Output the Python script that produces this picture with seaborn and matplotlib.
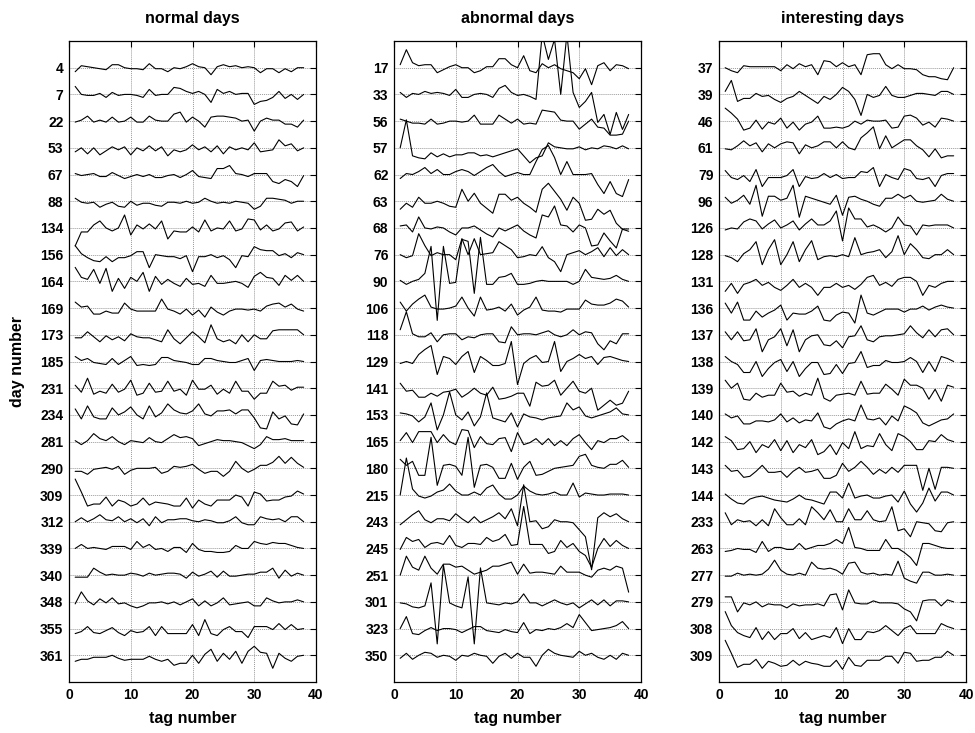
import matplotlib
matplotlib.use("Agg")
import matplotlib.pyplot as plt
import pandas as pd
import seaborn as sns

sns.set_theme(style="white")
plt.rcParams['font.family'] = ['Liberation Sans', 'DejaVu Sans']
plt.rcParams['text.color'] = 'black'
plt.rcParams['axes.labelcolor'] = 'black'
plt.rcParams['xtick.color'] = 'black'
plt.rcParams['ytick.color'] = 'black'

# ---------------- data ----------------
tags = list(range(1, 39))

titles = ["normal days", "abnormal days", "interesting days"]

normal_days = [4, 7, 22, 53, 67, 88, 134, 156, 164, 169, 173, 185, 231, 234,
               281, 290, 309, 312, 339, 340, 348, 355, 361]
abnormal_days = [17, 33, 56, 57, 62, 63, 68, 76, 90, 106, 118, 129, 141, 153,
                 165, 180, 215, 243, 245, 251, 301, 323, 350]
interesting_days = [37, 39, 46, 61, 79, 96, 126, 128, 131, 136, 137, 138, 139,
                    140, 142, 143, 144, 233, 263, 277, 279, 308, 309]

# trace deviations (upward positive), one list per day
normal_traces = [
    [-4, 2, 1, 0, -1, -2, 3, 3, 0, -1, -1, -2, 4, -1, -1, -4, 0, -1, 1, 4, 1, 0, -7, 1, 3, 1, 2, 0, 1, 0, -5, -1, -1, -5, -1, -4, 0, 0],
    [8, 0, -1, -1, 1, -3, 2, -1, 0, 0, -1, -3, 5, -1, 0, 0, 7, 6, 3, 1, 3, 0, -8, 5, 1, 3, 0, 1, 1, -10, -7, -6, -3, 3, -4, 0, -5, 0],
    [-1, 1, 5, -1, 1, -1, 4, -1, 0, 4, -1, -1, 5, 1, 0, 0, 7, 9, -1, 4, 0, -6, 4, 5, 5, 4, 3, 0, 1, -10, 0, 3, 1, 1, -3, -3, -6, 1],
    [-4, 0, -6, 0, -7, -3, 1, -2, 1, -7, 0, -3, 2, -3, 1, -8, -2, -4, -2, 3, -2, 1, -4, 2, -6, 1, -2, 0, -2, 5, -4, -3, -2, 8, 2, 4, -3, 0],
    [1, -1, 0, 1, -2, -2, 2, -1, -4, -2, 0, -2, 0, -3, -3, -1, 0, -3, 0, 4, -2, -3, -4, 6, 6, 9, 1, 0, -2, 1, 1, 1, -7, -9, -5, -7, -12, -1],
    [3, -1, -2, -1, -6, -3, -1, -5, -6, 0, -4, -2, -2, -4, -5, -1, -1, -2, 0, -2, -1, 3, 0, -2, -1, -2, 0, -1, -2, -8, -5, 3, 3, 2, 1, -2, 0, 0],
    [-18, -4, -4, 3, 7, 0, -3, 0, 13, -7, 3, -1, 4, -1, 7, -11, -3, -4, -4, 1, -4, 8, -3, 0, -1, 7, -3, -1, 9, 8, -2, 3, -3, -1, 5, 6, -3, 1],
    [9, 1, -3, -6, -7, -2, -7, -3, -3, -1, 3, 3, -13, 0, -1, -2, -2, -4, -1, -17, -2, -2, 0, -3, -1, -5, -13, -1, -2, 8, 5, 4, 4, -1, 1, -3, 2, 0],
    [14, 4, 2, 12, -2, 13, -10, 3, -7, 4, 0, 9, -10, 5, -3, 2, -2, -5, 3, -3, -2, -5, 6, -2, -2, -1, 0, -2, -6, 5, 9, 4, 3, -4, 6, 1, 6, 0],
    [6, 1, 2, -6, -6, -3, -5, -5, 5, -1, -3, -3, -3, -3, 9, -1, -3, -6, -1, -7, -2, -9, 1, -4, -7, -3, -1, -1, -2, -1, -3, 2, 4, 5, 1, 4, -1, -3],
    [-3, -3, 3, -2, -7, -1, -5, -2, -6, 1, -2, -3, -3, -5, -7, 5, -4, -9, -3, 3, -2, -8, 10, -4, -7, -5, -9, 0, -7, 0, -4, -4, 4, 5, 5, 5, 5, 0],
    [5, 1, 3, -1, -2, -3, 3, -3, 1, 5, -4, -3, -4, -3, 4, 4, 1, 0, -1, -3, -3, 3, 3, 1, 0, -1, -1, 1, 3, -9, 1, 2, 1, 0, 0, 0, 1, 0],
    [3, -4, 10, -6, -3, -5, 4, -4, -1, 8, -7, -5, 5, -4, -3, 7, -3, -1, -7, 8, -1, -1, 3, -6, -1, -5, 7, -3, -3, -11, -5, -5, 7, 2, 3, -2, 1, 1],
    [6, -4, 9, -2, -4, -4, 7, 0, 3, 8, 0, -4, 9, -2, 2, 11, 5, 2, 1, 4, 11, 1, -1, 4, 4, 5, 1, 5, 5, -3, -13, -14, 3, -4, -1, -9, -10, 1],
    [1, -3, 1, 8, 3, 1, 5, 0, -3, 1, 0, -1, 4, 0, -1, 3, 7, 4, 5, 3, -4, -2, 0, 2, 1, 1, 0, -1, -4, -7, -3, 5, 2, 2, 3, 1, 1, 1],
    [-3, -3, -6, -1, 0, 1, -1, 2, -6, -2, 0, 0, 0, 1, -5, -3, 2, 1, 2, 4, -1, -5, -3, -3, -8, -3, 7, 0, -4, -1, 3, 3, 6, 12, 5, 11, 5, 1],
    [16, 3, -11, -9, -9, -2, -11, -5, -7, -11, -9, -3, -10, -7, -8, -9, -11, -11, -3, -13, -5, -9, -11, -5, -5, -5, 0, -2, -11, 3, 1, -6, -5, -5, -2, -1, 4, 1],
    [0, 4, 0, 3, 7, 2, 1, 5, 0, 3, -1, 3, -4, 5, -1, 2, 2, 3, 3, 1, 0, 2, 1, -1, -1, 1, 5, -1, -3, -3, 5, 3, 2, 3, 0, 5, 5, 0],
    [0, 4, 0, 1, 0, -1, 2, 2, 2, -1, 7, 1, 4, -1, 0, -3, 1, 1, -4, 5, -1, -3, -3, -4, -4, -3, 3, 0, 0, 7, 5, 4, 6, 5, 5, 3, 1, 0],
    [-2, -2, -2, 7, 3, 0, 1, 0, 0, 2, 1, -1, 2, 0, 1, 2, 2, 1, -3, 3, -1, 1, 4, -2, 4, -1, -1, 0, 1, 1, 3, 3, 7, -3, 5, -1, 2, 0],
    [-2, 10, 1, -3, 3, -1, 4, -2, -1, -4, -6, -4, -1, -1, 0, -2, 0, -3, 0, 3, -4, 1, -4, -1, 4, -3, -2, -1, 0, -4, -4, 4, 1, -1, 0, 0, 2, 0],
    [-5, -3, 2, -4, -5, -2, 1, -4, -7, -2, -4, -3, 2, -7, 2, -5, -5, -5, -5, 4, -7, 9, -5, -7, -1, 2, -3, -3, -9, 2, 2, 2, -1, 5, -1, 4, -1, 0],
    [-6, -4, -4, -2, -2, -2, 0, -3, -5, -4, -4, -4, -1, -4, -6, -4, -10, -8, -8, 0, -8, 1, 6, -6, 2, -4, 4, -8, 4, 9, 3, 2, -13, 2, -3, -6, -1, 0],
]

abnormal_traces = [
    [3, 18, 5, 2, 3, 3, -5, -2, 1, 3, 0, 0, -5, -3, 1, 1, 9, 9, 3, 0, 12, -3, -5, 4, 0, 3, -1, -3, -5, -11, -1, -17, 2, 5, -3, 3, 2, -1],
    [2, -3, 1, 0, 3, 1, 2, 1, -1, 5, -3, -3, 0, 1, 0, -3, 6, 9, 2, -1, 0, -2, -5, 60, 35, 55, 0, 60, 2, -13, -7, 2, -28, -20, -40, -18, -35, -20],
    [2, 0, -2, -2, -3, 2, -3, -2, 0, 0, -1, 0, 6, -3, -3, -3, 6, 2, -2, 2, -3, -2, -3, 11, 10, 9, 1, 0, 0, -8, -3, 2, -6, -7, -14, -14, -13, 0],
    [0, 28, -8, -10, -11, -5, -9, -6, -9, -7, -7, -5, -5, -8, -7, -9, -7, -5, -3, -1, -8, -15, -10, -8, 5, 1, 0, -1, -1, 1, -2, 0, -1, 2, 1, -1, 2, -1],
    [-4, 1, 0, 3, 7, 1, 5, 0, 0, 3, 5, 3, -1, 3, 7, 10, 3, -2, 0, 2, 0, 0, 13, 25, 29, 17, 0, 13, 0, 0, 0, 1, -10, -19, -7, -19, -22, -5],
    [-8, -2, -6, 4, -2, -2, 0, -2, -5, -6, 12, 0, 8, -2, -7, -12, 7, 7, 1, 4, -2, -6, -11, 12, 18, 10, 2, -9, 4, -2, -19, -18, -8, -13, -9, -22, -28, -30],
    [2, 3, -4, 11, 0, -1, 1, 0, -4, -7, 0, 0, 2, -2, -6, -9, 0, -3, 0, 3, -3, -7, -10, 13, 11, 22, 3, 2, -4, 3, 0, -18, -17, -5, -13, -20, -1, -1],
    [0, -3, -1, 21, 9, -1, 2, 0, 0, -5, 16, 0, 16, 0, 1, 2, 13, 9, 5, -3, -2, 0, -1, 8, -3, -7, -17, 0, 2, 4, 0, 3, 7, -2, 7, -1, 5, 0],
    [1, -3, 0, 2, 8, 35, -39, 35, -2, -1, 42, 40, -12, 44, -3, -3, 4, 5, 8, -3, -3, -2, 0, 1, 0, 0, 0, 0, -3, 0, 12, 4, 3, 2, 3, 6, 2, 0],
    [6, -3, 4, 9, 13, 1, -1, -1, 0, 2, 11, 0, -8, 11, -2, -1, 1, -3, 4, -7, -2, 1, 11, -2, -3, -3, -4, -1, -1, -1, 8, 4, 3, 3, 5, 9, 7, 1],
    [5, 23, 1, -2, -2, 2, -7, 0, 1, 1, -5, -2, -3, 0, 1, 1, -7, -8, 8, 0, 1, 1, 0, 2, 4, 0, -2, 0, 5, 0, 3, 2, -9, -15, -6, -9, 1, 1],
    [-2, 0, -2, 7, 12, 16, -13, 5, 3, -3, 5, 10, -11, 5, 1, -4, -4, -2, 20, -23, -2, 3, 6, -1, 0, 20, -10, 0, 3, 7, 3, 5, -3, 4, 5, 3, 1, 0],
    [5, -3, -2, -9, -9, -5, -8, -4, -3, -1, -9, -5, 0, -5, -7, 1, -11, -10, -8, -5, -5, -18, 6, 2, 3, 8, -7, 0, 7, -3, -5, 0, -22, -17, -12, -17, -15, -3],
    [2, 1, -1, -7, -2, 12, -15, 0, 23, 0, -5, 3, -11, -2, 22, -3, -5, -7, 2, -12, 1, -2, -3, -5, -3, -2, -1, 12, 5, 8, -1, -3, -1, 1, 3, 7, 1, 0],
    [1, 9, -1, 10, 10, 10, -1, 7, 0, -3, 12, 11, -6, 5, -2, -3, 3, 4, -10, 9, -3, -1, 3, -3, 3, -4, 1, -4, 3, 7, -1, -8, 1, -1, 3, 3, 6, 1],
    [9, 3, 7, -7, -7, 31, -17, 3, 4, 2, -7, 31, -19, 3, 4, 1, -10, -10, 5, -11, 1, 7, -7, -6, -3, 0, 1, 2, 3, 12, 14, 3, 1, 0, 4, 4, 8, 1],
    [0, 37, 6, -1, -3, -1, 3, 5, 11, 4, 0, 0, 3, 0, 7, 10, 1, -4, -4, 0, 9, 4, 1, 0, 1, 3, 0, 0, 12, -2, 2, 1, 0, 0, 1, 1, 1, 0],
    [-3, 2, 7, 11, 2, -1, 3, 3, 1, 8, 3, -1, 5, -1, 2, 5, 9, 3, 13, -4, 37, 0, 1, -7, -5, 2, 0, 0, -1, -8, -15, -48, 4, 9, 5, 8, 3, 0],
    [-1, 11, 7, 9, 1, 5, 6, 4, 13, 3, 1, 5, 5, 4, 11, 7, 9, 14, 3, 4, 42, 4, 4, 4, -5, -3, 8, 1, 5, -3, -7, -19, 0, 10, 2, 8, 3, 0],
    [0, 19, 8, 5, 19, 7, 1, 11, 11, 8, 9, 5, 1, 3, 5, 9, 9, 11, 13, 1, 11, 2, 3, 3, 2, 1, 9, 3, 3, 3, 0, -2, 5, 7, 5, 9, 7, -17],
    [-1, -2, -5, -6, -4, 19, -42, 37, -1, -4, -6, 25, -42, 34, -1, -2, -3, -1, -2, 0, 8, -1, -1, -4, -1, 2, -1, -3, -1, -6, -2, 2, -3, 2, -4, 1, 1, 0],
    [0, 12, -5, -6, -2, 1, -2, 0, 0, -1, -4, -1, 2, 2, -2, -3, -4, -1, -3, -4, 6, -5, -1, -2, 0, -1, 1, 5, 1, 14, 6, -2, -1, 0, 1, 3, 7, 0],
    [-3, 2, -4, 0, 3, 2, -2, 0, -1, -5, 0, -1, 2, 0, -1, -8, -1, 2, -3, 2, -2, -2, -11, 0, 6, 2, 0, -1, -2, 4, 0, 2, -2, -4, 0, -4, 2, 0],
]

interesting_traces = [
    [0, -3, -5, 2, 1, 1, 1, 1, 1, -3, 3, -1, 4, 1, 3, -7, 7, 6, 1, 5, 1, 3, -7, 13, 14, 14, 3, -1, 3, -1, -1, -2, -7, -9, -9, -11, -12, 0],
    [3, 14, -7, -4, -4, 1, -2, -1, -5, -8, -4, -2, 3, -1, -5, -9, -2, -5, 0, 7, 3, -5, -21, 0, -3, -1, 8, -1, -3, -3, -1, 1, 1, 0, -1, 3, 3, 0],
    [13, 8, 2, -9, -7, 1, -8, -1, -3, 3, -7, -1, -9, -3, -1, 5, -7, -7, -6, -7, -5, 0, -3, 1, 0, 0, 1, -7, -6, 5, 6, 3, -4, -1, -6, 3, 2, 0],
    [-1, -2, 2, 7, 2, 5, -4, 4, 0, 4, 6, 5, -6, 3, 0, 2, 6, 6, 0, 6, 0, -2, 10, 15, 21, -1, 12, 0, 4, 8, 8, 2, -2, -9, -1, -10, -8, -8],
    [4, -3, -5, -1, -7, 5, -12, -3, -3, -3, -1, 5, -12, -2, -4, -3, 1, -3, 0, -4, -3, -3, 3, 2, 7, -12, 0, -3, -5, 6, 4, -4, -5, -3, -12, -1, 1, 1],
    [4, -2, 1, 6, -3, 16, -15, 5, 5, 1, 3, 16, -16, 5, 3, 1, -1, -3, 6, -14, 4, 5, 2, 0, -3, -5, 3, 3, 7, 3, 6, 0, -1, 0, 1, 7, 2, 0],
    [-2, 0, -1, 6, 9, 7, -1, 4, 8, 0, 3, 7, -2, 4, 9, 3, 3, 7, 17, -13, 20, 9, 9, 1, 3, 0, -4, 0, 11, 3, 2, -7, 3, 2, 3, 3, 3, 0],
    [-1, -3, -7, 1, 5, 13, -10, 5, 15, -10, 0, 13, -7, 5, 14, -5, -2, -1, -2, 0, -2, 17, 0, 2, 3, 5, -3, 3, 19, 0, 11, 5, -3, -4, 0, 0, 5, 0],
    [-10, -2, -12, -3, -1, 2, -4, -1, -6, -9, -4, 2, -6, -2, -6, -14, -6, -6, -2, -6, -4, -8, -3, 4, 6, -4, -1, -5, 2, 4, 4, 0, -14, -4, -6, -2, 0, 0],
    [5, -5, 6, -12, -12, -3, -9, -5, -2, 3, -12, -5, -6, -6, -3, 2, -12, -13, -7, -4, -5, -15, 13, -5, -7, -4, -1, -1, -1, -4, -1, -1, 2, -2, 1, 3, 1, 0],
    [3, -5, 3, -6, -5, 6, -17, -5, -2, 6, -11, 5, -17, -5, -1, 0, -10, -11, -6, -13, -2, -1, 9, -5, -7, -2, -1, -1, 0, 1, 9, 2, -3, 5, -2, 5, 6, 0],
    [5, 0, -3, -11, -11, 0, -15, -7, -1, 2, -10, 0, -15, -7, -1, -1, -13, -12, -3, -12, -2, -1, 10, -6, -4, -4, 1, -1, -1, 0, 4, 0, -11, 0, -10, 5, 3, 0],
    [8, 0, 5, -11, -12, -5, -9, -7, -7, 5, -4, -3, -8, -5, -7, 10, -10, -13, -7, -6, -5, -7, 7, -6, -5, -5, 4, -1, -7, 9, 3, 3, 0, -11, -1, -13, 3, 1],
    [1, -3, -1, -9, -9, -6, -6, -7, -5, 1, -7, -3, -8, -5, -6, 2, -12, -14, -9, -6, -4, -6, 10, -4, -5, -3, -10, -1, -6, 9, 6, 2, -8, -11, -8, -5, -4, 1],
    [5, 1, -8, -7, 0, -11, -3, -6, 2, -9, 1, -11, -3, -6, 2, -13, -10, -3, -13, -1, -7, 10, -7, -4, -5, 8, -3, -9, 8, 5, 0, -8, -8, 1, 0, 7, 2, 0],
    [3, -3, -2, -9, -8, -3, 3, -4, -4, -3, -9, -3, 1, -4, -3, -1, -10, -10, -7, 5, -3, 1, 7, 1, -6, -1, -5, 1, -4, 3, 3, 3, -22, 0, -21, 1, 1, 0],
    [1, -4, -8, -9, -4, -2, -1, -3, -5, -6, -7, -4, 0, -4, -5, -7, -9, 3, 3, -3, 12, -3, -1, 0, -3, -3, -1, 0, -7, 4, -9, -17, -8, 7, -6, 3, 3, 0],
    [9, -3, 2, 0, 1, -4, 2, -4, 13, 4, -3, -3, 3, -3, 15, 9, 2, 12, 0, 0, 13, 2, 2, 11, 2, 0, 1, 15, -9, -7, -15, 0, -1, -2, -9, -10, -1, 0],
    [-3, -2, 0, -1, -1, -4, 7, -3, 1, 1, -1, -1, 5, -1, 1, 3, 3, 5, 9, 5, 21, 1, 0, -2, -2, -2, 9, 0, 0, -4, -9, -17, 5, 5, 3, 1, 0, 0],
    [-1, -1, 2, 0, 1, 0, 1, 6, 15, 5, 1, 0, 2, 0, 13, 7, 6, 7, 5, 1, 12, 13, 3, 1, 2, 0, 1, 0, 14, -3, -6, -8, 3, 3, 0, 0, 1, 0],
    [5, 5, -10, -1, -3, 0, -5, -2, -3, -3, -6, -2, -4, -3, -3, -2, -4, 7, 8, -8, 12, -1, -2, -2, 1, -1, -1, -1, -2, -7, -10, -19, 1, 2, 2, -4, 2, 0],
    [17, 3, -4, -7, -9, 1, -11, -3, -11, -5, -5, 0, -10, -4, -11, -9, -7, -9, 1, -15, 0, -11, -11, -3, -4, -2, 3, -2, -7, 0, 3, -5, -5, -5, -5, 5, 2, 0],
    [15, 2, -12, -9, -9, -4, -13, -6, -8, -11, -10, -5, -10, -6, -8, -9, -11, -11, -5, -14, -2, -10, -11, -5, -5, -5, -1, -1, -8, 3, 2, -6, -5, -5, -2, -2, 4, 0],
]

x_ticks = [0, 10, 20, 30, 40]

# ---------------- plot ----------------
W, H = 975, 733
fig = plt.figure(figsize=(W / 100, H / 100), dpi=100)

ROW_SCALE = 26.7  # deviation units per row spacing
panel_left_px = [69, 394, 719]
ax_w_px, ax_top_px, ax_bot_px = 247, 41, 682

panels = [(normal_days, normal_traces),
          (abnormal_days, abnormal_traces),
          (interesting_days, interesting_traces)]

for k, (days, traces) in enumerate(panels):
    ax = fig.add_axes([panel_left_px[k] / W, 1 - ax_bot_px / H,
                       ax_w_px / W, (ax_bot_px - ax_top_px) / H])
    recs = []
    for i, (d, tr) in enumerate(zip(days, traces)):
        for t, v in zip(tags, tr):
            recs.append({"day": d, "tag": t, "y": (i + 1) - v / ROW_SCALE})
    df = pd.DataFrame(recs)
    sns.lineplot(data=df, x="tag", y="y", units="day", estimator=None,
                 color="black", linewidth=0.8, ax=ax, legend=False, sort=False)

    ax.set_xlim(0, 40)
    ax.set_ylim(24, 0)
    ax.set_xticks(x_ticks)
    ax.set_xticklabels([str(v) for v in x_ticks], fontweight="bold", fontsize=10)
    ax.set_yticks(range(1, len(days) + 1))
    ax.set_yticklabels([str(d) for d in days], fontweight="bold", fontsize=10)
    ax.grid(True, color="#9a9a9a", linestyle=(0, (1, 1)), linewidth=0.7)
    ax.set_axisbelow(True)
    ax.tick_params(direction="in", top=True, right=True, length=4, width=0.8,
                   colors="black", labelcolor="black", pad=4)
    for sp in ax.spines.values():
        sp.set_color("black")
        sp.set_linewidth(0.9)
        sp.set_visible(True)
    ax.set_title(titles[k], fontweight="bold", fontsize=11.5, pad=13,
                 color="black")
    ax.set_xlabel("tag number", fontweight="bold", fontsize=11.5, labelpad=7,
                  color="black")
    if k == 0:
        ax.set_ylabel("day number", fontweight="bold", fontsize=11.5,
                      labelpad=11, color="black")
    else:
        ax.set_ylabel("")

fig.savefig("out.png", dpi=100, facecolor="white")
